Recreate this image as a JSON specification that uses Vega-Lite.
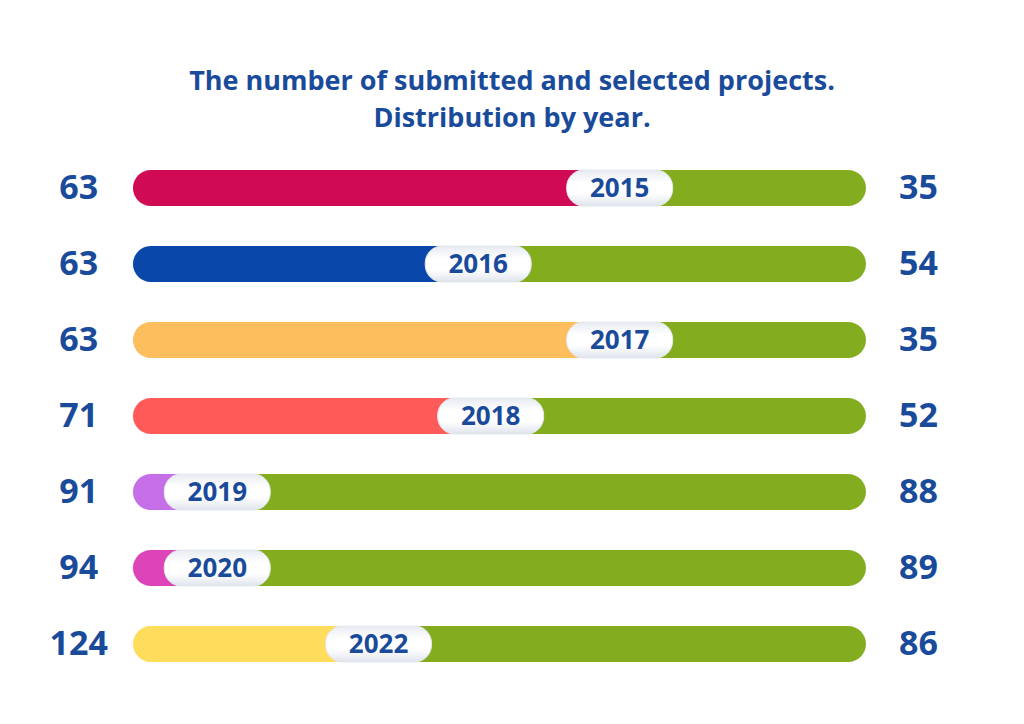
{
  "$schema": "https://vega.github.io/schema/vega-lite/v6.json",
  "width": 1024,
  "height": 724,
  "padding": 0,
  "autosize": {"type": "none"},
  "background": "white",
  "config": {"view": {"stroke": null}},
  "title": {
    "text": ["The number of submitted and selected projects.", "Distribution by year."],
    "font": "Open Sans",
    "fontWeight": "bold",
    "fontSize": 27,
    "color": "#1a4b9b",
    "lineHeight": 37,
    "anchor": "middle",
    "orient": "top",
    "offset": -133
  },
  "data": {
    "values": [
      {"year": "2015", "submitted": 63, "selected": 35, "split": 66.4},
      {"year": "2016", "submitted": 63, "selected": 54, "split": 47.1},
      {"year": "2017", "submitted": 63, "selected": 35, "split": 66.4},
      {"year": "2018", "submitted": 71, "selected": 52, "split": 48.8},
      {"year": "2019", "submitted": 91, "selected": 88, "split": 11.5},
      {"year": "2020", "submitted": 94, "selected": 89, "split": 11.5},
      {"year": "2022", "submitted": 124, "selected": 86, "split": 33.5}
    ]
  },
  "encoding": {
    "y": {
      "field": "year",
      "type": "nominal",
      "sort": null,
      "axis": null,
      "scale": {"range": [150, 682], "paddingInner": 0.526, "paddingOuter": 0.263}
    }
  },
  "layer": [
    {
      "mark": {"type": "bar", "color": "#83ac1f", "cornerRadius": 18},
      "encoding": {
        "x": {"field": "split", "type": "quantitative", "scale": {"domain": [-18.14, 121.56], "nice": false, "zero": false}, "axis": null},
        "x2": {"datum": 100}
      }
    },
    {
      "mark": {"type": "bar", "cornerRadius": 18},
      "encoding": {
        "x": {"field": "split", "type": "quantitative"},
        "x2": {"datum": 0},
        "color": {
          "field": "year",
          "type": "nominal",
          "legend": null,
          "scale": {
            "domain": ["2015", "2016", "2017", "2018", "2019", "2020", "2022"],
            "range": ["#d10a55", "#0a47aa", "#fdbf5e", "#fe5a57", "#c66ee8", "#dd44b8", "#fedd5c"]
          }
        }
      }
    },
    {
      "mark": {
        "type": "rect",
        "xOffset": -53,
        "x2Offset": 53,
        "cornerRadius": 17,
        "fill": {
          "gradient": "linear", "x1": 0, "y1": 0, "x2": 0, "y2": 1,
          "stops": [
            {"offset": 0, "color": "#e6eaf1"},
            {"offset": 0.35, "color": "#ffffff"},
            {"offset": 0.65, "color": "#ffffff"},
            {"offset": 1, "color": "#dfe4ec"}
          ]
        },
        "stroke": "#e3e7ee",
        "strokeWidth": 1
      },
      "encoding": {
        "x": {"field": "split", "type": "quantitative"},
        "x2": {"field": "split"}
      }
    },
    {
      "mark": {"type": "text", "font": "Open Sans", "fontWeight": "bold", "fontSize": 26, "color": "#1a4b9b", "align": "center", "baseline": "middle", "dy": 1},
      "encoding": {
        "x": {"field": "split", "type": "quantitative"},
        "text": {"field": "year"}
      }
    },
    {
      "mark": {"type": "text", "font": "Open Sans", "fontWeight": "bold", "fontSize": 34, "color": "#1a4b9b", "align": "center", "baseline": "middle", "dy": 1},
      "encoding": {
        "x": {"datum": -7.4, "type": "quantitative"},
        "text": {"field": "submitted"}
      }
    },
    {
      "mark": {"type": "text", "font": "Open Sans", "fontWeight": "bold", "fontSize": 34, "color": "#1a4b9b", "align": "left", "baseline": "middle", "dy": 1},
      "encoding": {
        "x": {"datum": 104.5, "type": "quantitative"},
        "text": {"field": "selected"}
      }
    }
  ]
}
